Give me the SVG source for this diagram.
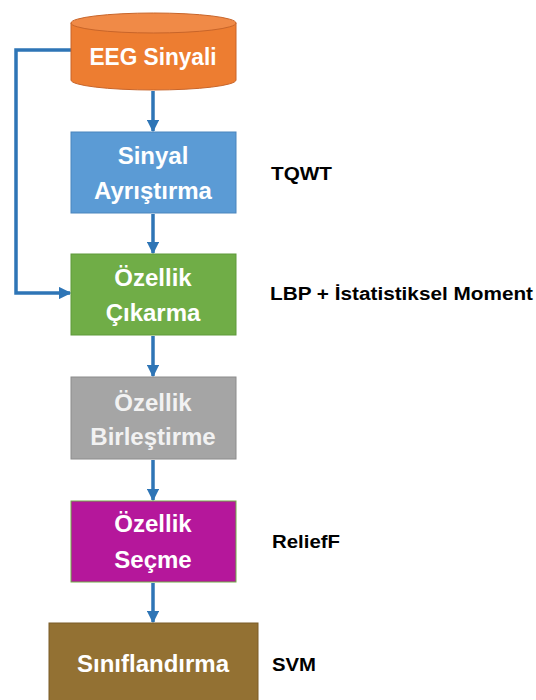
<svg xmlns="http://www.w3.org/2000/svg" width="536" height="700" viewBox="0 0 536 700">
<style>
.conn{fill:none;stroke:#2E75B6;stroke-width:3.5}
.t{font-family:"Liberation Sans",Arial,sans-serif;font-weight:bold;font-size:24px;fill:#fff;text-anchor:middle}
.g{fill:#F2F2F2}
.lab{font-family:"Liberation Sans",Arial,sans-serif;font-weight:bold;font-size:18px;fill:#000}
</style>
<defs>
<marker id="ah" viewBox="0 0 10 10" refX="9" refY="5" markerWidth="3.6" markerHeight="3.6" orient="auto" markerUnits="strokeWidth">
<path d="M0,0 L10,5 L0,10 z" fill="#2E75B6"/>
</marker>
</defs>
<rect width="536" height="700" fill="#fff"/>
<g id="connectors">
<line class="conn" x1="153" y1="91" x2="153" y2="131" marker-end="url(#ah)"/>
<line class="conn" x1="153" y1="214" x2="153" y2="253" marker-end="url(#ah)"/>
<line class="conn" x1="153" y1="336" x2="153" y2="376" marker-end="url(#ah)"/>
<line class="conn" x1="153" y1="460" x2="153" y2="500" marker-end="url(#ah)"/>
<line class="conn" x1="153" y1="583" x2="153" y2="622" marker-end="url(#ah)"/>
<path class="conn" d="M71,50 H16 V293 H70" marker-end="url(#ah)"/>
</g>
<g id="eeg">
<path d="M71,23 V80 A82.5,10 0 0 0 236,80 V23 Z" fill="#ED7D31" stroke="#C8652A" stroke-width="1"/>
<ellipse cx="153.5" cy="23" rx="82.5" ry="10" fill="#F08A47" stroke="#C8652A" stroke-width="1"/>
<text class="t" x="153" y="65" textLength="127" lengthAdjust="spacingAndGlyphs">EEG Sinyali</text>
</g>
<g id="ayristirma">
<rect x="71" y="132" width="165" height="81" fill="#5B9BD5" stroke="#4A85BD" stroke-width="1"/>
<text class="t" x="153" y="164">Sinyal</text>
<text class="t" x="153" y="199">Ayrıştırma</text>
</g>
<g id="cikarma">
<rect x="71" y="254" width="165" height="81" fill="#70AD47" stroke="#5E9A3A" stroke-width="1"/>
<text class="t" x="153" y="286">Özellik</text>
<text class="t" x="153" y="321">Çıkarma</text>
</g>
<g id="birlestirme">
<rect x="71" y="377" width="165" height="82" fill="#A5A5A5" stroke="#8C8C8C" stroke-width="1"/>
<text class="t g" x="153" y="411">Özellik</text>
<text class="t g" x="153" y="445">Birleştirme</text>
</g>
<g id="secme">
<rect x="71" y="501" width="165" height="81" fill="#B5179B" stroke="#70AD47" stroke-width="1"/>
<text class="t" x="153" y="532">Özellik</text>
<text class="t" x="153" y="568">Seçme</text>
</g>
<g id="siniflandirma">
<rect x="49" y="623" width="209" height="90" fill="#937133" stroke="#7A5D28" stroke-width="1"/>
<text class="t" x="153" y="672">Sınıflandırma</text>
</g>
<g id="labels">
<text class="lab" x="271" y="180" textLength="61" lengthAdjust="spacingAndGlyphs">TQWT</text>
<text class="lab" x="270" y="300" textLength="263" lengthAdjust="spacingAndGlyphs">LBP + İstatistiksel Moment</text>
<text class="lab" x="272" y="548" textLength="68" lengthAdjust="spacingAndGlyphs">ReliefF</text>
<text class="lab" x="272" y="671" textLength="44" lengthAdjust="spacingAndGlyphs">SVM</text>
</g>
</svg>
